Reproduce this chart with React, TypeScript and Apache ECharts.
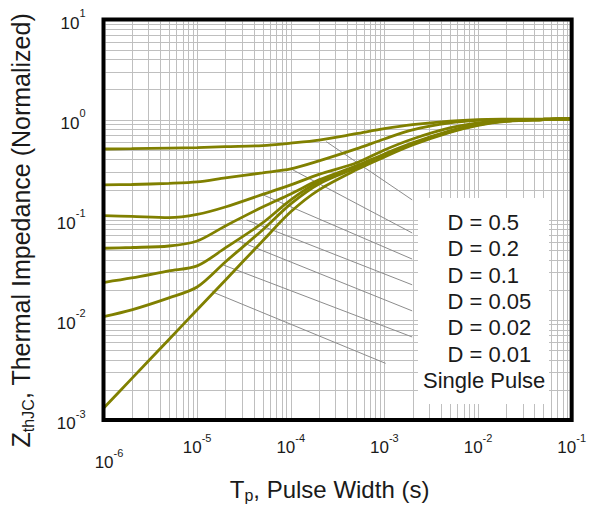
import React, { useEffect, useRef } from 'react';
import * as echarts from 'echarts';

// ---- data ----
const pulseWidth = [1e-6, 2e-6, 5e-6, 1e-5, 2e-5, 5e-5, 1e-4, 2e-4, 5e-4, 1e-3, 2e-3, 5e-3, 1e-2, 2e-2, 5e-2, 1e-1];
const zD05 = [0.509, 0.513, 0.519, 0.525, 0.537, 0.55, 0.582, 0.624, 0.724, 0.813, 0.891, 0.966, 1.0, 1.01, 1.015, 1.02];
const zD02 = [0.223, 0.225, 0.231, 0.239, 0.262, 0.294, 0.322, 0.387, 0.51, 0.641, 0.789, 0.927, 0.982, 1.0, 1.01, 1.02];
const zD01 = [0.11, 0.108, 0.105, 0.113, 0.134, 0.179, 0.223, 0.284, 0.369, 0.498, 0.641, 0.826, 0.927, 0.982, 1.0, 1.02];
const zD005 = [0.0519, 0.0528, 0.0547, 0.0614, 0.0867, 0.134, 0.181, 0.25, 0.345, 0.454, 0.585, 0.771, 0.906, 0.97, 1.0, 1.02];
const zD002 = [0.0236, 0.0262, 0.0308, 0.0346, 0.0523, 0.0929, 0.158, 0.239, 0.337, 0.444, 0.578, 0.762, 0.895, 0.97, 1.0, 1.02];
const zD001 = [0.0108, 0.0126, 0.0166, 0.0213, 0.0379, 0.0791, 0.144, 0.228, 0.33, 0.434, 0.571, 0.753, 0.885, 0.97, 1.0, 1.02];
const zSingle = [0.00131, 0.00259, 0.00637, 0.0126, 0.0249, 0.0614, 0.12, 0.199, 0.315, 0.424, 0.558, 0.745, 0.875, 0.96, 1.0, 1.02];

const curveNames = ['D = 0.5', 'D = 0.2', 'D = 0.1', 'D = 0.05', 'D = 0.02', 'D = 0.01', 'Single Pulse'];
const curveValues = [zD05, zD02, zD01, zD005, zD002, zD001, zSingle];

// leader lines: [tStart, zStart, tEnd, zEnd]
const leaderLines = [
  [2.39e-4, 0.603, 1.98e-3, 0.158],
  [1.05e-4, 0.315, 1.98e-3, 0.0738],
  [5.07e-5, 0.177, 1.98e-3, 0.0405],
  [3.38e-5, 0.0995, 1.98e-3, 0.0224],
  [2.61e-5, 0.0628, 1.98e-3, 0.0123],
  [1.91e-5, 0.0353, 1.98e-3, 0.00675],
  [1.44e-5, 0.0191, 1.03e-3, 0.00368],
];

// log grid positions (axis decoration)
const mantissas = [1, 2, 3, 4, 5, 6, 7, 8, 9];
const xDecades = [-6, -5, -4, -3, -2];
const yDecades = [-3, -2, -1, 0];
const xGridValues: number[] = [];
xDecades.forEach((e) => mantissas.forEach((m) => xGridValues.push(m * Math.pow(10, e))));
const yGridValues: number[] = [];
yDecades.forEach((e) => mantissas.forEach((m) => yGridValues.push(m * Math.pow(10, e))));

const FONT = '"Liberation Sans", Arial, sans-serif';
const TEXT = '#1a1a1a';
const OLIVE = '#808000';

export default function App() {
  const ref = useRef<HTMLDivElement>(null);
  useEffect(() => {
    const chart = echarts.init(ref.current!, null, { renderer: 'svg' });

    const tickRich = {
      b: { fontSize: 17, lineHeight: 24, verticalAlign: 'bottom', fontFamily: FONT, color: TEXT },
      s: { fontSize: 11, lineHeight: 11, verticalAlign: 'top', fontFamily: FONT, color: TEXT },
      gap: { fontSize: 1, lineHeight: 15 },
      pad: { fontSize: 1, width: 11 },
    };
    const exp = (v: number) => Math.round(Math.log10(v));

    const option: any = {
      animation: false,
      backgroundColor: '#ffffff',
      grid: {
        left: 102.5, right: 15, top: 19.5, bottom: 94,
        show: true, borderColor: '#000', borderWidth: 4, backgroundColor: 'transparent', z: 10,
      },
      xAxis: {
        type: 'log', logBase: 10, min: 1e-6, max: 1e-1,
        axisLine: { show: false }, axisTick: { show: false }, splitLine: { show: false },
        axisLabel: {
          margin: 12, showMinLabel: true, showMaxLabel: true,
          formatter: (v: number) => {
            const e = exp(v);
            if (e === -6) return '{gap| }\n{pad| }{b|10}{s|' + e + '}';
            return '{b|10}{s|' + e + '}';
          },
          rich: tickRich,
        },
        name: '{t|T}{sub|p}{t|, Pulse Width (s)}',
        nameLocation: 'middle', nameGap: 57,
        nameTextStyle: {
          padding: [0, 16, 0, 0],
          rich: {
            t: { fontSize: 24, lineHeight: 26, verticalAlign: 'top', fontFamily: FONT, color: TEXT },
            sub: { fontSize: 16, lineHeight: 16, verticalAlign: 'bottom', fontFamily: FONT, color: TEXT },
          },
        },
      },
      yAxis: {
        type: 'log', logBase: 10, min: 1e-3, max: 10,
        axisLine: { show: false }, axisTick: { show: false }, splitLine: { show: false },
        axisLabel: {
          margin: 18, showMinLabel: true, showMaxLabel: true,
          formatter: (v: number) => '{b|10}{s|' + exp(v) + '}',
          rich: tickRich,
        },
        name: '{t|Z}{sub|thJC}{t|, Thermal Impedance (Normalized)}',
        nameLocation: 'middle', nameGap: 67.5,
        nameTextStyle: {
          padding: [0, 21, 0, 0],
          rich: {
            t: { fontSize: 25, lineHeight: 28, verticalAlign: 'top', fontFamily: FONT, color: TEXT },
            sub: { fontSize: 16, lineHeight: 16, verticalAlign: 'bottom', fontFamily: FONT, color: TEXT },
          },
        },
      },
      series: [
        {
          type: 'custom', name: 'vgrid', silent: true, z: 1,
          data: xGridValues.map((v) => [v, 1]),
          renderItem: (params: any, api: any) => {
            const p = api.coord([api.value(0), api.value(1)]);
            const cs = params.coordSys;
            const x = Math.round(p[0]) + 0.5;
            return {
              type: 'line',
              shape: { x1: x, y1: cs.y + 2, x2: x, y2: cs.y + cs.height - 2 },
              style: { stroke: '#bfbfbf', lineWidth: 1 },
            };
          },
        },
        {
          type: 'custom', name: 'hgrid', silent: true, z: 1,
          data: yGridValues.map((v) => [1e-3, v]),
          renderItem: (params: any, api: any) => {
            const p = api.coord([api.value(0), api.value(1)]);
            const cs = params.coordSys;
            const y = Math.round(p[1]) + 0.5;
            return {
              type: 'line',
              shape: { x1: cs.x + 2, y1: y, x2: cs.x + cs.width - 2, y2: y },
              style: { stroke: '#bfbfbf', lineWidth: 1 },
            };
          },
        },
        {
          type: 'custom', name: 'leaders', silent: true, z: 2,
          dimensions: ['t1', 'z1', 't2', 'z2'],
          encode: { x: [0, 2], y: [1, 3] },
          data: leaderLines,
          renderItem: (params: any, api: any) => {
            const a = api.coord([api.value(0), api.value(1)]);
            const b = api.coord([api.value(2), api.value(3)]);
            return {
              type: 'line',
              shape: { x1: a[0], y1: a[1], x2: b[0], y2: b[1] },
              style: { stroke: '#8c8c8c', lineWidth: 1 },
            };
          },
        },
        ...curveNames.map((name, k) => ({
          type: 'line', name, silent: true, z: 5,
          data: pulseWidth.map((t, i) => [t, curveValues[k][i]]),
          showSymbol: false, smooth: 0.3,
          lineStyle: { color: OLIVE, width: 2.8 },
        })),
      ],
      graphic: [
        {
          type: 'group', z: 100,
          children: [
            { type: 'rect', z: 100, shape: { x: 418, y: 198, width: 131, height: 206 }, style: { fill: '#ffffff' } },
            ...curveNames.map((label, i) => ({
              type: 'text', z: 101,
              x: i === curveNames.length - 1 ? 423 : 447.5,
              y: 222.5 + i * 26.3,
              style: { text: label, fontSize: 22, fontFamily: FONT, fill: TEXT, align: 'left', verticalAlign: 'middle' },
            })),
          ],
        },
      ],
    };

    chart.setOption(option);
    return () => chart.dispose();
  }, []);
  return <div ref={ref} style={{ position: 'fixed', left: 0, top: 0, width: 589, height: 514, background: '#fff' }} />;
}
